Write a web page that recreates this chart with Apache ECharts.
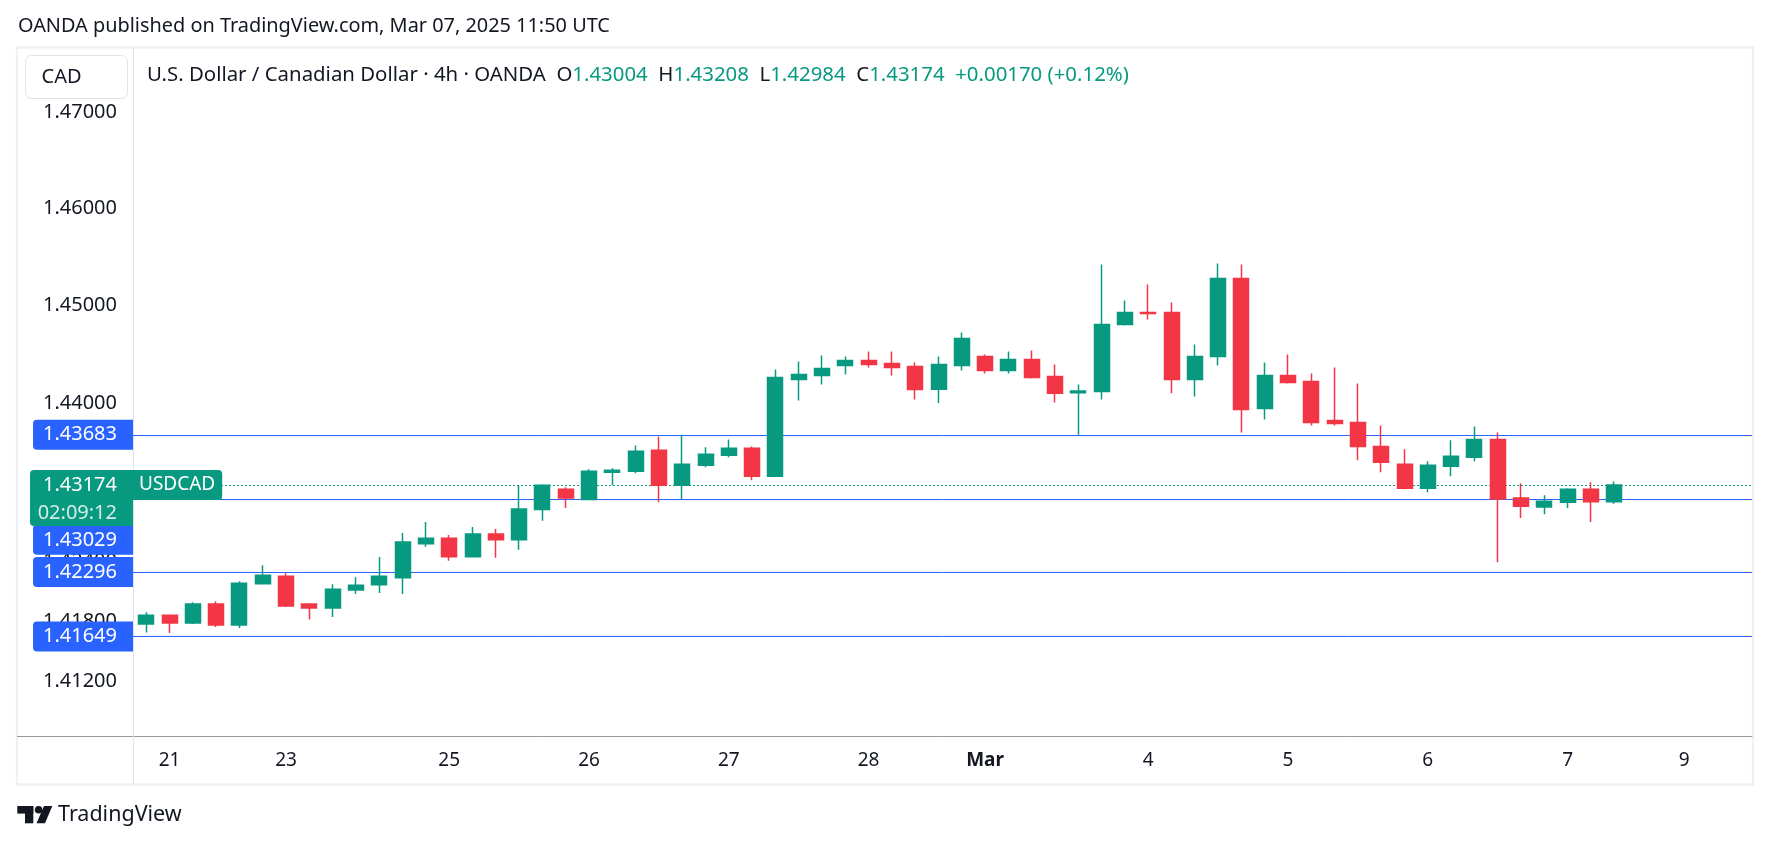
<!DOCTYPE html>
<html><head><meta charset="utf-8">
<script src="https://cdn.jsdelivr.net/npm/echarts@6/dist/echarts.min.js"></script>
<style>html,body{margin:0;padding:0;background:#fff;}#c{width:1771px;height:846px;}</style>
</head><body><div id="c"></div>
<script>
// ---- data (4h candles, OANDA USDCAD) ----
const candleTimes = [
 'Feb 20 22:00',
 'Feb 21 02:00','Feb 21 06:00','Feb 21 10:00','Feb 21 14:00','Feb 21 18:00',
 'Feb 23 22:00',
 'Feb 24 02:00','Feb 24 06:00','Feb 24 10:00','Feb 24 14:00','Feb 24 18:00','Feb 24 22:00',
 'Feb 25 02:00','Feb 25 06:00','Feb 25 10:00','Feb 25 14:00','Feb 25 18:00','Feb 25 22:00',
 'Feb 26 02:00','Feb 26 06:00','Feb 26 10:00','Feb 26 14:00','Feb 26 18:00','Feb 26 22:00',
 'Feb 27 02:00','Feb 27 06:00','Feb 27 10:00','Feb 27 14:00','Feb 27 18:00','Feb 27 22:00',
 'Feb 28 02:00','Feb 28 06:00','Feb 28 10:00','Feb 28 14:00','Feb 28 18:00',
 'Mar 02 22:00',
 'Mar 03 02:00','Mar 03 06:00','Mar 03 10:00','Mar 03 14:00','Mar 03 18:00','Mar 03 22:00',
 'Mar 04 02:00','Mar 04 06:00','Mar 04 10:00','Mar 04 14:00','Mar 04 18:00','Mar 04 22:00',
 'Mar 05 02:00','Mar 05 06:00','Mar 05 10:00','Mar 05 14:00','Mar 05 18:00','Mar 05 22:00',
 'Mar 06 02:00','Mar 06 06:00','Mar 06 10:00','Mar 06 14:00','Mar 06 18:00','Mar 06 22:00',
 'Mar 07 02:00','Mar 07 06:00','Mar 07 10:00'
];
const openVals = [
 1.41773,1.41861,1.41784,1.41975,1.41763,1.42177,1.42254,1.41975,1.41935,1.42116,
 1.42167,1.42237,1.42580,1.42637,1.42449,1.42678,1.42620,1.42925,1.43131,1.43027,
 1.43303,1.43313,1.43525,1.43172,1.43373,1.43474,1.43545,1.43263,1.44246,1.44286,
 1.44388,1.44439,1.44408,1.44378,1.44147,1.44388,1.44480,1.44337,1.44449,1.44276,
 1.44109,1.44124,1.44807,1.44930,1.44930,1.44246,1.44480,1.45279,1.43949,1.44286,
 1.44226,1.43828,1.43808,1.43565,1.43384,1.43142,1.43363,1.43454,1.43636,1.43041,
 1.42950,1.43000,1.43131,1.43004
];
const highVals = [
 1.41891,1.41865,1.41992,1.42002,1.42204,1.42365,1.42284,1.41980,1.42173,1.42244,
 1.42446,1.42688,1.42799,1.42668,1.42748,1.42728,1.43172,1.43182,1.43152,1.43333,
 1.43343,1.43575,1.43666,1.43683,1.43555,1.43636,1.43565,1.44348,1.44429,1.44491,
 1.44480,1.44531,1.44531,1.44418,1.44480,1.44725,1.44500,1.44531,1.44541,1.44398,
 1.44194,1.45423,1.45053,1.45218,1.45033,1.44603,1.45433,1.45423,1.44418,1.44500,
 1.44306,1.44368,1.44204,1.43778,1.43535,1.43414,1.43626,1.43767,1.43706,1.43192,
 1.43071,1.43142,1.43202,1.43208
];
const lowVals = [
 1.41689,1.41683,1.41773,1.41743,1.41733,1.42170,1.41945,1.41820,1.41844,1.42076,
 1.42086,1.42076,1.42550,1.42409,1.42445,1.42439,1.42520,1.42812,1.42940,1.43020,
 1.43172,1.43293,1.43000,1.43027,1.43353,1.43454,1.43222,1.43260,1.44032,1.44194,
 1.44296,1.44368,1.44286,1.44042,1.44005,1.44337,1.44306,1.44306,1.44256,1.44012,
 1.43683,1.44042,1.44797,1.44859,1.44104,1.44072,1.44388,1.43706,1.43838,1.44204,
 1.43778,1.43778,1.43424,1.43303,1.43131,1.43101,1.43263,1.43414,1.42395,1.42839,
 1.42879,1.42940,1.42799,1.42984
];
const closeVals = [
 1.41861,1.41784,1.41975,1.41763,1.42184,1.42264,1.41955,1.41935,1.42123,1.42163,
 1.42254,1.42597,1.42637,1.42449,1.42678,1.42620,1.42930,1.43172,1.43041,1.43313,
 1.43323,1.43515,1.43172,1.43384,1.43484,1.43545,1.43263,1.44266,1.44296,1.44358,
 1.44439,1.44398,1.44368,1.44144,1.44398,1.44663,1.44337,1.44449,1.44266,1.44104,
 1.44129,1.44807,1.44930,1.44920,1.44246,1.44480,1.45279,1.43939,1.44286,1.44214,
 1.43808,1.43798,1.43565,1.43404,1.43142,1.43373,1.43464,1.43636,1.43031,1.42960,
 1.43010,1.43131,1.43004,1.43174
];
// horizontal price levels drawn on the chart
const levelLines = [1.43683, 1.43029, 1.42296, 1.41649];
// tick labels
const xTickIndex  = [1, 6, 13, 19, 25, 31, 36, 43, 49, 55, 61, 66];
const xTickLabels = ['21','23','25','26','27','28','Mar','4','5','6','7','9'];
const yTickValues = [1.412, 1.418, 1.424, 1.44, 1.45, 1.46, 1.47];
const symbolName = 'USDCAD';
const countdownText = '02:09:12';
const titleText = 'OANDA published on TradingView.com, Mar 07, 2025 11:50 UTC';
const legendName = 'U.S. Dollar / Canadian Dollar · 4h · OANDA';
const currencyText = 'CAD';

// ---- styles ----
const FONT = "'Noto Sans', sans-serif";
const UP = '#089981', DOWN = '#F23645', BLUE = '#2962FF', TEXT = '#131722';
const FS = 20;
const CLEAR = 'rgba(0,0,0,0)';

const chart = echarts.init(document.getElementById('c'), null, {renderer: 'canvas'});

const seriesData = openVals.map((o, i) => [i, o, closeVals[i], lowVals[i], highVals[i]]);
const last = closeVals.length - 1;
const lastClose = closeVals[last];
const prevClose = closeVals[last - 1];
const chg = lastClose - prevClose;
const pct = chg / prevClose * 100;
const sgn = v => (v >= 0 ? '+' : '−');

const legendText =
  '{t|' + legendName + '}  ' +
  '{t|O}{v|' + openVals[last].toFixed(5) + '}  ' +
  '{t|H}{v|' + highVals[last].toFixed(5) + '}  ' +
  '{t|L}{v|' + lowVals[last].toFixed(5) + '}  ' +
  '{t|C}{v|' + lastClose.toFixed(5) + '}  ' +
  '{v|' + sgn(chg) + Math.abs(chg).toFixed(5) + ' (' + sgn(pct) + Math.abs(pct).toFixed(2) + '%)}';

// price-scale tick labels (positioned through the log y axis)
const tickItems = yTickValues.map(v => ({
  yAxis: v,
  lineStyle: {color: CLEAR, width: 1},
  label: {show: true, position: 'start', distance: 16, formatter: () => v.toFixed(5),
          color: TEXT, fontSize: FS, fontFamily: FONT}
}));

const displacedLevel = 1.43029;
const levelItems = levelLines.map(v => {
  if (v === displacedLevel) {
    return {
      yAxis: v,
      label: {
        show: true, position: 'start', distance: 0,
        formatter: () => '{g| }\n{box|' + v.toFixed(5) + '}',
        rich: {
          g: {height: 81, fontSize: 4},
          box: {height: 30, backgroundColor: BLUE, color: '#fff', fontSize: FS, fontFamily: FONT,
                padding: [0, 16, 0, 10], borderRadius: [4, 0, 0, 4], align: 'right'}
        }
      }
    };
  }
  return {
    yAxis: v,
    label: {
      show: true, position: 'start', distance: 0,
      formatter: () => v.toFixed(5),
      backgroundColor: BLUE, color: '#fff', fontSize: FS, fontFamily: FONT,
      padding: [5, 16, 5, 10], borderRadius: [4, 0, 0, 4]
    }
  };
});

const priceItems = [
  {
    yAxis: lastClose,
    lineStyle: {color: UP, width: 1, type: [2, 2]},
    label: {
      show: true, position: 'start', distance: 0,
      formatter: () => '{g| }\n{a|' + lastClose.toFixed(5) + '}\n{b|' + countdownText + '}',
      rich: {
        g: {height: 26, fontSize: 4},
        a: {height: 30, width: 87, padding: [0, 16, 0, 0], align: 'right', backgroundColor: UP,
            color: '#fff', fontSize: FS, fontFamily: FONT, borderRadius: [4, 0, 0, 0]},
        b: {height: 26, width: 87, padding: [0, 16, 0, 0], align: 'right', backgroundColor: UP,
            color: 'rgba(255,255,255,0.82)', fontSize: FS, fontFamily: FONT, borderRadius: [0, 0, 0, 4]}
      }
    }
  },
  {
    yAxis: lastClose,
    lineStyle: {color: CLEAR, width: 1},
    label: {
      show: true, position: 'insideStartTop', distance: 0, align: 'left', verticalAlign: 'middle',
      formatter: () => symbolName,
      backgroundColor: UP, color: '#fff', fontSize: 19, fontFamily: FONT,
      padding: [5.5, 7, 5.5, 6], borderRadius: [0, 4, 4, 0]
    }
  }
];

const option = {
  animation: false,
  backgroundColor: '#ffffff',
  textStyle: {fontFamily: FONT},
  grid: {left: 133, right: 19, top: 48, bottom: 110},
  xAxis: {
    type: 'value', min: -0.5708, max: 68.914,
    axisLine: {show: true, onZero: false, lineStyle: {color: '#9598A1', width: 1}},
    axisTick: {show: false}, splitLine: {show: false},
    axisLabel: {
      customValues: xTickIndex,
      formatter: v => {
        const k = xTickIndex.indexOf(Math.round(v));
        const s = k >= 0 ? xTickLabels[k] : '';
        return /^\d+$/.test(s) ? s : '{b|' + s + '}';
      },
      color: TEXT, fontSize: 19, margin: 15, fontFamily: FONT,
      rich: {b: {fontWeight: 'bold', fontSize: 19, color: TEXT, fontFamily: FONT}}
    }
  },
  yAxis: {
    type: 'log', logBase: 10, min: 1.40656, max: 1.47665,
    axisLine: {show: true, onZero: false, lineStyle: {color: '#E0E3EB', width: 1}},
    axisTick: {show: false}, splitLine: {show: false}, minorTick: {show: false},
    axisLabel: {show: false}
  },
  series: [{
    type: 'candlestick',
    data: seriesData,
    barWidth: 15.5,
    z: 4,
    itemStyle: {color: UP, color0: DOWN, borderColor: UP, borderColor0: DOWN, borderWidth: 1.5},
    markLine: {
      silent: true, symbol: ['none', 'none'], z: 3, animation: false, precision: 5,
      lineStyle: {color: BLUE, width: 1, type: 'solid'},
      data: tickItems.concat(levelItems, priceItems)
    }
  }],
  graphic: [
    {type: 'rect', z: 0, silent: true, shape: {x: 17, y: 47.5, width: 1736, height: 737},
     style: {fill: null, stroke: '#EFF1F5', lineWidth: 2.5}},
    {type: 'line', z: 1, silent: true, shape: {x1: 17, y1: 736.5, x2: 133, y2: 736.5},
     style: {stroke: '#9598A1', lineWidth: 1}},
    {type: 'line', z: 1, silent: true, shape: {x1: 133.5, y1: 736, x2: 133.5, y2: 784},
     style: {stroke: '#E0E3EB', lineWidth: 1}},
    {type: 'text', z: 10, silent: true, x: 18, y: 26.5,
     style: {text: titleText, fill: TEXT, font: '19.9px ' + FONT, textVerticalAlign: 'middle', verticalAlign: 'middle'}},
    {type: 'rect', z: 10, silent: true, shape: {x: 25.5, y: 55.5, width: 102, height: 43, r: 6},
     style: {fill: '#ffffff', stroke: '#E0E3EB', lineWidth: 1}},
    {type: 'text', z: 11, silent: true, x: 41.5, y: 77,
     style: {text: currencyText, fill: TEXT, font: FS + 'px ' + FONT, textVerticalAlign: 'middle', verticalAlign: 'middle'}},
    {type: 'text', z: 11, silent: true, x: 147, y: 75,
     style: {text: legendText, font: '20.4px ' + FONT, fill: TEXT, textVerticalAlign: 'middle', verticalAlign: 'middle',
       rich: {t: {fill: TEXT, font: '20.4px ' + FONT}, v: {fill: UP, font: '20.4px ' + FONT}}}},
    // TradingView logo
    {type: 'rect', z: 10, silent: true, shape: {x: 17.3, y: 806, width: 16, height: 7.6}, style: {fill: TEXT}},
    {type: 'rect', z: 10, silent: true, shape: {x: 25, y: 806, width: 8.3, height: 17.3}, style: {fill: TEXT}},
    {type: 'circle', z: 10, silent: true, shape: {cx: 38.6, cy: 809.8, r: 3.8}, style: {fill: TEXT}},
    {type: 'polygon', z: 10, silent: true, shape: {points: [[44, 806], [52.3, 806], [45, 823.3], [36.5, 823.3]]}, style: {fill: TEXT}},
    {type: 'text', z: 10, silent: true, x: 58, y: 815,
     style: {text: 'TradingView', fill: TEXT, font: '21.5px ' + FONT, textVerticalAlign: 'middle', verticalAlign: 'middle'}}
  ]
};
chart.setOption(option);
</script>
</body></html>
